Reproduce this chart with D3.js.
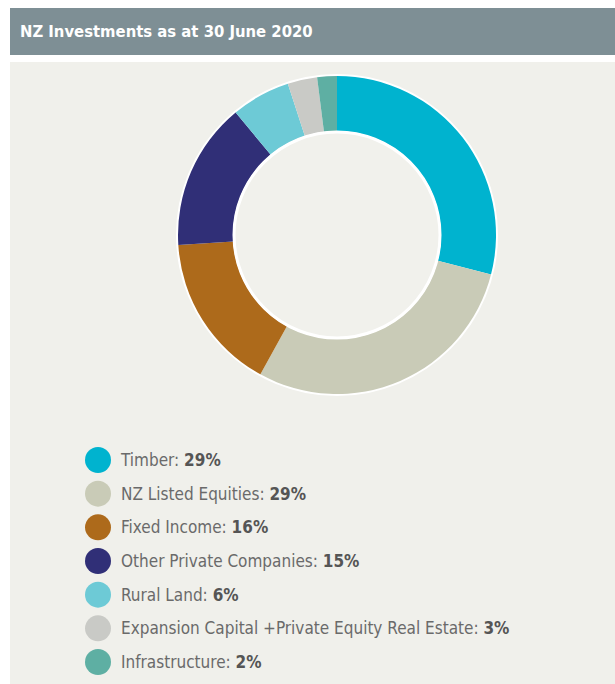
<!DOCTYPE html>
<html>
<head>
<meta charset="utf-8">
<script src="https://cdn.jsdelivr.net/npm/d3@7"></script>
<style>
  body { margin: 0; background: #fff; }
  svg { display: block; }
</style>
</head>
<body>
<div id="chart"></div>
<script>
// data
var categories = ["Timber", "NZ Listed Equities", "Fixed Income", "Other Private Companies",
  "Rural Land", "Expansion Capital +Private Equity Real Estate", "Infrastructure"]
var shares = [29, 29, 16, 15, 6, 3, 2]
var colours = ["#00b3cf", "#c9cbb7", "#ad6a1b", "#302f77", "#6dcad6", "#c9cac6", "#5eafa3"]
var title = "NZ Investments as at 30 June 2020"

var width = 615, height = 684
var font = "'Liberation Sans Narrow', 'DejaVu Sans Condensed', sans-serif"

var svg = d3.select("#chart")
  .append("svg")
  .attr("width", width)
  .attr("height", height)

// header band
svg.append("rect")
  .attr("x", 10).attr("y", 8)
  .attr("width", width - 10).attr("height", 47)
  .attr("fill", "#7e8f95")
svg.append("text")
  .attr("x", 20).attr("y", 37)
  .attr("fill", "#fff")
  .style("font-family", font)
  .style("font-weight", "bold")
  .style("font-size", "16.5px")
  .text(title)

// panel
svg.append("rect")
  .attr("x", 10).attr("y", 62)
  .attr("width", width - 10).attr("height", height - 62)
  .attr("fill", "#f0f0eb")

var data = categories.map(function (c, i) { return { name: c, value: shares[i], color: colours[i] } })

var cx = 337, cy = 235, outerR = 159, innerR = 104

var pie = d3.pie().sort(null).value(function (d) { return d.value })
var arc = d3.arc().innerRadius(innerR).outerRadius(outerR)

var g = svg.append("g").attr("transform", "translate(" + cx + "," + cy + ")")

// white rims
g.append("circle").attr("r", outerR + 2).attr("fill", "#fff")
g.selectAll("path.slice")
  .data(pie(data))
  .enter()
  .append("path")
  .attr("class", "slice")
  .attr("d", arc)
  .attr("fill", function (d) { return d.data.color })
g.append("circle").attr("r", innerR - 1)
  .attr("fill", "#f1f1ec")
  .attr("stroke", "#fff")
  .attr("stroke-width", 3)

// legend
var y = d3.scalePoint().domain(categories).range([460, 662])

var legend = svg.selectAll("g.legend")
  .data(data)
  .enter()
  .append("g")
  .attr("class", "legend")
  .attr("transform", function (d) { return "translate(0," + y(d.name) + ")" })

legend.append("circle")
  .attr("cx", 98)
  .attr("r", 13)
  .attr("fill", function (d) { return d.color })

var label = legend.append("text")
  .attr("x", 121)
  .attr("y", 6)
  .style("font-family", font)
  .style("font-size", "17px")
  .attr("fill", "#6a6a6a")
label.append("tspan").text(function (d) { return d.name + ": " })
label.append("tspan")
  .style("font-weight", "bold")
  .attr("fill", "#555")
  .text(function (d) { return d.value + "%" })
</script>
</body>
</html>
